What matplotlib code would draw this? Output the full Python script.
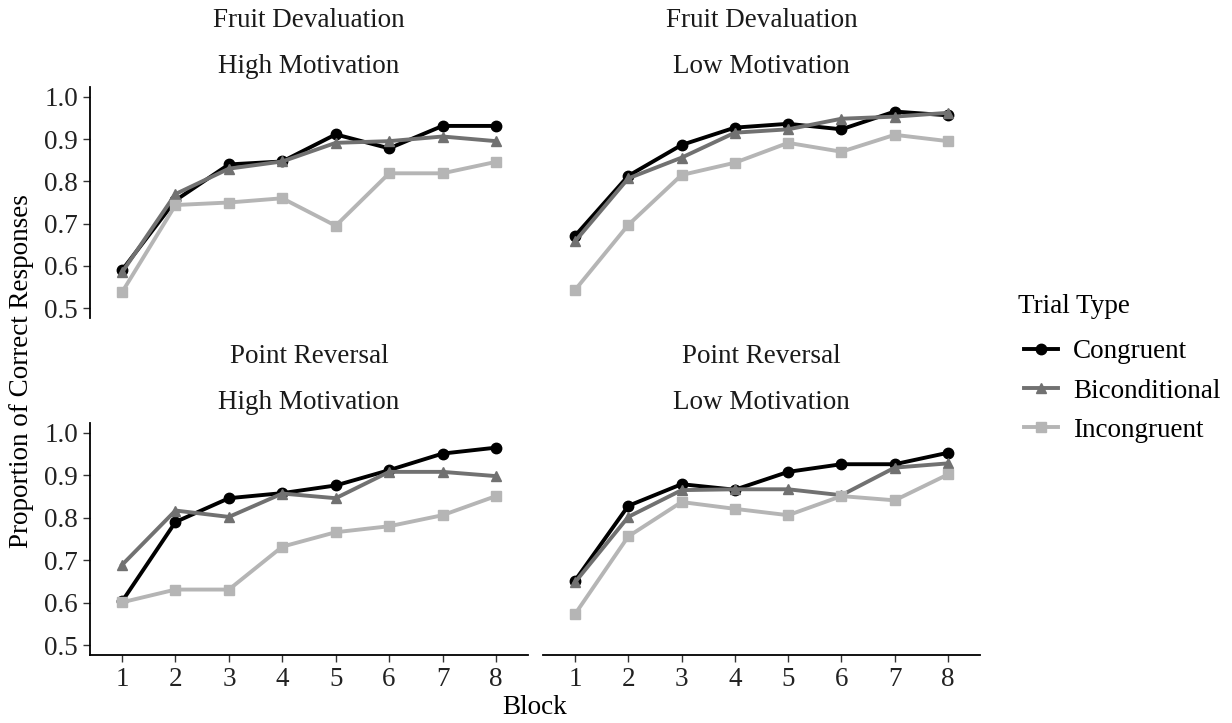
import matplotlib
matplotlib.use("Agg")
import matplotlib.pyplot as plt
from matplotlib.lines import Line2D

plt.rcParams["font.family"] = ["Liberation Serif", "DejaVu Serif"]

blocks = [1, 2, 3, 4, 5, 6, 7, 8]
trial_types = ["Congruent", "Biconditional", "Incongruent"]

# Fruit Devaluation / High Motivation
fd_high_congruent = [0.59, 0.755, 0.84, 0.847, 0.911, 0.878, 0.931, 0.931]
fd_high_bicond = [0.585, 0.77, 0.83, 0.847, 0.891, 0.895, 0.906, 0.895]
fd_high_incong = [0.538, 0.744, 0.75, 0.76, 0.695, 0.819, 0.819, 0.846]

# Fruit Devaluation / Low Motivation
fd_low_congruent = [0.671, 0.813, 0.886, 0.927, 0.936, 0.923, 0.965, 0.956]
fd_low_bicond = [0.658, 0.807, 0.856, 0.915, 0.923, 0.948, 0.953, 0.962]
fd_low_incong = [0.543, 0.697, 0.815, 0.844, 0.891, 0.870, 0.910, 0.895]

# Point Reversal / High Motivation
pr_high_congruent = [0.603, 0.79, 0.846, 0.858, 0.876, 0.912, 0.951, 0.965]
pr_high_bicond = [0.689, 0.817, 0.802, 0.857, 0.846, 0.908, 0.908, 0.898]
pr_high_incong = [0.601, 0.631, 0.631, 0.732, 0.766, 0.780, 0.806, 0.851]

# Point Reversal / Low Motivation
pr_low_congruent = [0.652, 0.828, 0.879, 0.866, 0.908, 0.926, 0.926, 0.953]
pr_low_bicond = [0.648, 0.802, 0.865, 0.867, 0.867, 0.853, 0.918, 0.928]
pr_low_incong = [0.573, 0.756, 0.837, 0.821, 0.806, 0.851, 0.841, 0.902]

panels = [
    ("Fruit Devaluation", "High Motivation",
     [fd_high_congruent, fd_high_bicond, fd_high_incong]),
    ("Fruit Devaluation", "Low Motivation",
     [fd_low_congruent, fd_low_bicond, fd_low_incong]),
    ("Point Reversal", "High Motivation",
     [pr_high_congruent, pr_high_bicond, pr_high_incong]),
    ("Point Reversal", "Low Motivation",
     [pr_low_congruent, pr_low_bicond, pr_low_incong]),
]

colors = ["#000000", "#717171", "#b5b5b5"]
markers = ["o", "^", "s"]
FS = 19.5
W, H = 1232, 723

fig = plt.figure(figsize=(W / 100, H / 100), dpi=100)

# panel boxes in pixels: (left, top, right, bottom)
boxes = [(90, 87, 528, 318), (543, 87, 980, 318),
         (90, 423, 528, 655), (543, 423, 980, 655)]

for i, ((t1, t2, series), (l, t, r, b)) in enumerate(zip(panels, boxes)):
    ax = fig.add_axes([l / W, 1 - b / H, (r - l) / W, (b - t) / H])
    for vals, c, m, name in zip(series, colors, markers, trial_types):
        ax.plot(blocks, vals, color=c, marker=m, markersize=7.5,
                linewidth=2.8, label=name)
    ax.set_xlim(0.4, 8.6)
    ax.set_ylim(0.477, 1.023)
    ax.set_yticks([0.5, 0.6, 0.7, 0.8, 0.9, 1.0])
    ax.set_xticks(blocks)
    for s in ax.spines.values():
        s.set_visible(False)
    ax.tick_params(labelsize=FS, length=5, width=1, colors="#333333",
                   labelcolor="#222222")
    col, row = i % 2, i // 2
    if col == 0:
        ax.spines["left"].set_visible(True)
        ax.spines["left"].set_linewidth(1.3)
        ax.yaxis.set_major_formatter(plt.FuncFormatter(lambda v, p: f"{v:.1f}"))
    else:
        ax.tick_params(axis="y", left=False, labelleft=False)
    if row == 1:
        ax.spines["bottom"].set_visible(True)
        ax.spines["bottom"].set_linewidth(1.3)
    else:
        ax.tick_params(axis="x", bottom=False, labelbottom=False)
    ax.annotate(t2, xy=(0.5, 1), xycoords="axes fraction",
                xytext=(0, 15), textcoords="offset points",
                ha="center", va="center", fontsize=FS, color="#1a1a1a")
    ax.annotate(t1, xy=(0.5, 1), xycoords="axes fraction",
                xytext=(0, 48), textcoords="offset points",
                ha="center", va="center", fontsize=FS, color="#1a1a1a")

fig.text(22 / W, 1 - 371 / H, "Proportion of Correct Responses",
         rotation=90, ha="center", va="center", fontsize=FS)
fig.text(535 / W, 1 - 708 / H, "Block", ha="center", va="center",
         fontsize=FS)

# legend: title drawn separately so its gap can match
fig.text(1018 / W, 1 - 306 / H, "Trial Type", ha="left", va="center",
         fontsize=FS)
handles = [Line2D([], [], color=c, marker=m, markersize=7.5, linewidth=2.8)
           for c, m in zip(colors, markers)]
fig.legend(handles, trial_types, loc="center left",
           bbox_to_anchor=(1000 / W, 1 - 391 / H), frameon=False,
           fontsize=FS, handlelength=1.25, handletextpad=0.55,
           labelspacing=0.52)

fig.savefig("out.png", dpi=100)
